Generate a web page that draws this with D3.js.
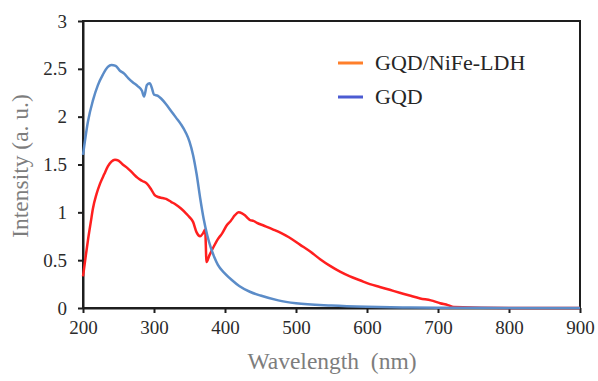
<!DOCTYPE html>
<html>
<head>
<meta charset="utf-8">
<script src="https://cdn.jsdelivr.net/npm/d3@7"></script>
<style>
  body { margin: 0; background: #fff; }
  svg { display: block; }
  text { font-family: "Liberation Serif", "DejaVu Serif", "Noto Serif", "Times New Roman", serif; }
</style>
</head>
<body>
<div id="chart"></div>
<script>
// wavelength (nm) and intensity (a. u.)
const gqdWavelength = [200, 207, 214, 221, 228, 235, 240, 246, 252, 258, 264, 270, 277, 283, 286, 290, 294, 297, 300, 305, 310, 317, 324, 331, 338, 345, 350, 355, 360, 365, 370, 375, 380, 385, 390, 400, 410, 420, 435, 450, 475, 500, 550, 600, 650, 700, 800, 900];
const gqdIntensity = [1.60, 1.95, 2.17, 2.33, 2.44, 2.52, 2.54, 2.53, 2.48, 2.45, 2.40, 2.36, 2.32, 2.27, 2.21, 2.33, 2.35, 2.30, 2.23, 2.22, 2.19, 2.13, 2.06, 1.99, 1.92, 1.83, 1.74, 1.60, 1.40, 1.15, 0.93, 0.76, 0.63, 0.53, 0.45, 0.36, 0.29, 0.23, 0.17, 0.13, 0.08, 0.05, 0.025, 0.012, 0.006, 0.003, 0.001, 0];

const ldhWavelength = [200, 204, 207, 211, 214, 219, 224, 230, 235, 240, 245, 250, 256, 263, 270, 277, 283, 290, 296, 301, 306, 312, 317, 324, 331, 338, 345, 350, 355, 360, 365, 369, 372, 374, 378, 384, 390, 396, 403, 408, 414, 419, 424, 428, 432, 435, 440, 445, 455, 468, 480, 490, 506, 520, 534, 548, 562, 576, 590, 604, 618, 632, 646, 660, 675, 690, 703, 714, 722, 800, 900];
const ldhIntensity = [0.33, 0.55, 0.71, 0.90, 1.04, 1.19, 1.30, 1.40, 1.48, 1.53, 1.55, 1.54, 1.50, 1.46, 1.41, 1.36, 1.33, 1.30, 1.24, 1.18, 1.16, 1.15, 1.14, 1.11, 1.08, 1.04, 0.99, 0.95, 0.90, 0.79, 0.75, 0.78, 0.82, 0.48, 0.55, 0.64, 0.72, 0.78, 0.87, 0.91, 0.97, 1.00, 0.99, 0.97, 0.94, 0.92, 0.91, 0.89, 0.86, 0.82, 0.78, 0.74, 0.66, 0.59, 0.51, 0.44, 0.38, 0.33, 0.29, 0.25, 0.22, 0.19, 0.16, 0.13, 0.10, 0.08, 0.05, 0.03, 0.01, 0, 0];

const xTicks = [200, 300, 400, 500, 600, 700, 800, 900];
const yTicks = [0, 0.5, 1, 1.5, 2, 2.5, 3];
const legendLabels = ["GQD/NiFe-LDH", "GQD"];
const legendColors = ["#ff7f2a", "#4b5bd2"];

const width = 598, height = 381;
const plotLeft = 83, plotRight = 580, plotTop = 21, plotBottom = 308;

const svg = d3.select("#chart").append("svg")
  .attr("width", width)
  .attr("height", height);

const x = d3.scaleLinear().domain([200, 900]).range([plotLeft, plotRight]);
const y = d3.scaleLinear().domain([0, 3]).range([plotBottom, plotTop]);

// frame
svg.append("rect")
  .attr("x", plotLeft).attr("y", plotTop)
  .attr("width", plotRight - plotLeft).attr("height", plotBottom - plotTop)
  .attr("fill", "none")
  .attr("stroke", "#1e1e1e")
  .attr("stroke-width", 2);

const xAxis = svg.append("g")
  .attr("transform", `translate(0,${plotBottom})`)
  .call(d3.axisBottom(x).tickValues(xTicks).tickSize(5).tickSizeOuter(0).tickPadding(8));

const yAxis = svg.append("g")
  .attr("transform", `translate(${plotLeft},0)`)
  .call(d3.axisLeft(y).tickValues(yTicks).tickSize(5).tickSizeOuter(0).tickPadding(11)
    .tickFormat(d3.format("")));

[xAxis, yAxis].forEach(function(g) {
  g.attr("font-family", null).attr("font-size", null);
  g.select(".domain").attr("stroke", "#1e1e1e").attr("stroke-width", 2);
  g.selectAll(".tick line").attr("stroke", "#1e1e1e").attr("stroke-width", 2);
  g.selectAll(".tick text")
    .attr("fill", "#2b2b2b")
    .style("font-size", "19px");
});

svg.append("text")
  .attr("x", 332)
  .attr("y", 369)
  .attr("text-anchor", "middle")
  .attr("fill", "#7d7d7d")
  .style("font-size", "23.5px")
  .style("white-space", "pre")
  .text("Wavelength  (nm)");

svg.append("text")
  .attr("transform", "translate(28,166) rotate(-90)")
  .attr("text-anchor", "middle")
  .attr("fill", "#7d7d7d")
  .style("font-size", "23.5px")
  .text("Intensity (a. u.)");

const line = d3.line()
  .x(function(d) { return x(d[0]); })
  .y(function(d) { return y(d[1]); })
  .curve(d3.curveMonotoneX);

svg.append("path")
  .datum(d3.zip(ldhWavelength, ldhIntensity))
  .attr("d", line)
  .attr("fill", "none")
  .attr("stroke", "#ff1f1f")
  .attr("stroke-width", 2.5);

svg.append("path")
  .datum(d3.zip(gqdWavelength, gqdIntensity))
  .attr("d", line)
  .attr("fill", "none")
  .attr("stroke", "#5b8cc8")
  .attr("stroke-width", 2.5);

// legend
const legend = svg.append("g").attr("transform", "translate(338,63)");
legendLabels.forEach(function(label, i) {
  legend.append("line")
    .attr("x1", 0).attr("x2", 25)
    .attr("y1", i * 34).attr("y2", i * 34)
    .attr("stroke", legendColors[i])
    .attr("stroke-width", 3);
  legend.append("text")
    .attr("x", 37)
    .attr("y", i * 34 + 7)
    .attr("fill", "#262626")
    .style("font-size", "22px")
    .text(label);
});
</script>
</body>
</html>
